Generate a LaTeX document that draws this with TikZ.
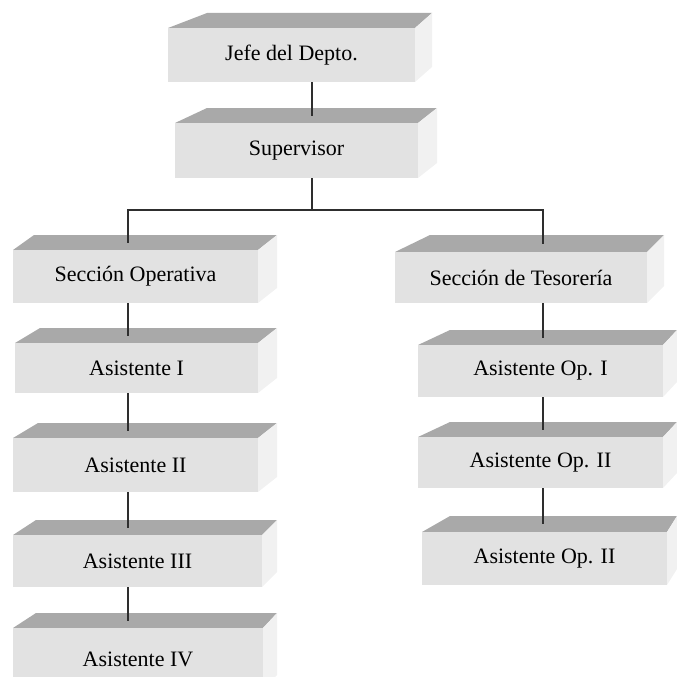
\documentclass[tikz,border=0pt]{standalone}
\usepackage{fontspec}
\setmainfont{Liberation Serif}
\usetikzlibrary{calc}

\definecolor{frontface}{HTML}{E2E2E2}
\definecolor{topface}{HTML}{A9A9A9}
\definecolor{sideface}{HTML}{F1F1F1}
\definecolor{wire}{HTML}{2E2E2E}

% \orgbox{name}{front x1}{front x2}{front top}{front bottom}{back x1}{back x2}{depth}{label}
% Draws a block in perspective: shaded top face, pale right face and a named front node.
\newcommand{\orgbox}[9]{%
  \fill[topface] (#2,#4) -- (#6,#4-#8) -- (#7,#4-#8) -- (#3,#4) -- cycle;
  \fill[sideface] (#3,#4) -- (#7,#4-#8) -- (#7,#5-#8) -- (#3,#5) -- cycle;
  \node[blockfront, minimum width={(#3-#2)*1pt}, minimum height={(#5-#4)*1pt}]
    (#1) at ({(#2+#3)/2},{(#4+#5)/2}) {#9};
  \coordinate (#1-top) at ({(#2+#3)/2},{#4-#8/2});
}

\tikzset{
  blockfront/.style={rectangle, fill=frontface, inner sep=0pt, font=\fontsize{22}{26}\selectfont},
  link/.style={draw=wire, line width=1.3pt},
}

\begin{document}
\begin{tikzpicture}[x=1pt, y=-1pt]
  \useasboundingbox (0,0) rectangle (677,677);
  \clip (0,0) rectangle (677,677);

  % head of department and supervisor
  \orgbox{jefe}{168}{415}{28}{82}{207}{432}{15}{Jefe del Depto.}
  \orgbox{sup}{175}{418}{123}{178}{207}{437}{15}{Supervisor}

  % two sections
  \orgbox{secop}{13}{258}{250}{303}{34}{277}{15}{Sección Operativa}
  \orgbox{sectes}{395}{647}{252}{303}{430}{664}{17}{Sección de Tesorería}

  % operative section staff
  \orgbox{as1}{15}{258}{343}{393}{40}{277}{15}{Asistente I}
  \orgbox{as2}{13}{258}{438}{492}{38}{277}{15}{Asistente II}
  \orgbox{as3}{13}{262}{535}{587}{36}{277}{15}{Asistente III}
  \orgbox{as4}{13}{263}{628}{690}{36}{277}{15}{Asistente IV}

  % treasury section staff
  \orgbox{op1}{418}{663}{345}{397}{450}{677}{15}{Asistente Op. I}
  \orgbox{op2}{418}{663}{437}{488}{450}{677}{15}{Asistente Op. II}
  \orgbox{op3}{422}{667}{532}{585}{450}{677}{16}{Asistente Op. II}

  % connector columns and the branching bus
  \coordinate (ccol) at (312,0);
  \coordinate (lcol) at (128,0);
  \coordinate (rcol) at (543,0);
  \coordinate (bus)  at (0,210);

  \draw[link] (jefe.south -| ccol) -- (sup-top -| ccol);
  \draw[link] (sup.south -| ccol) -- (ccol |- bus);
  \draw[link] (secop-top -| lcol) -- (lcol |- bus) -- (rcol |- bus) -- (sectes-top -| rcol);

  \draw[link] (secop.south -| lcol) -- (as1-top -| lcol);
  \draw[link] (as1.south -| lcol) -- (as2-top -| lcol);
  \draw[link] (as2.south -| lcol) -- (as3-top -| lcol);
  \draw[link] (as3.south -| lcol) -- (as4-top -| lcol);

  \draw[link] (sectes.south -| rcol) -- (op1-top -| rcol);
  \draw[link] (op1.south -| rcol) -- (op2-top -| rcol);
  \draw[link] (op2.south -| rcol) -- (op3-top -| rcol);
\end{tikzpicture}
\end{document}
